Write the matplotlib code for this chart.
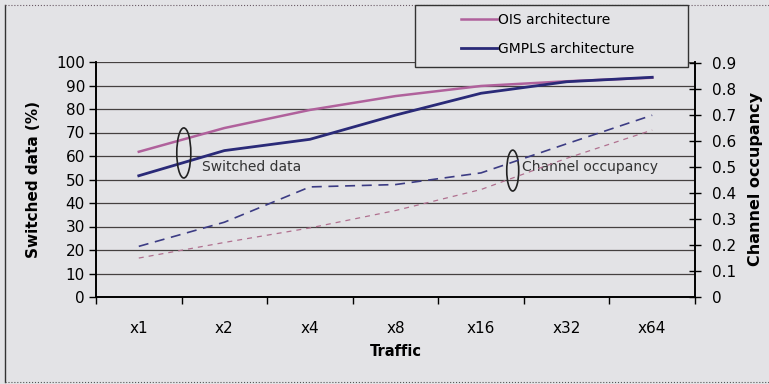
import matplotlib.pyplot as plt
from matplotlib.patches import Ellipse, Rectangle
from matplotlib.lines import Line2D

plt.rcParams['font.family'] = ['DejaVu Sans']

traffic = ['x1', 'x2', 'x4', 'x8', 'x16', 'x32', 'x64']

# switched data (%), left axis
ois_switched = [61.8, 71.9, 79.6, 85.5, 89.8, 91.8, 93.3]
gmpls_switched = [51.6, 62.3, 67.1, 77.4, 86.7, 91.6, 93.5]

# channel occupancy, right axis
ois_occupancy = [0.15, 0.21, 0.266, 0.333, 0.414, 0.534, 0.643]
gmpls_occupancy = [0.195, 0.288, 0.424, 0.433, 0.478, 0.59, 0.70]

bg = '#e3e3e6'
pink = '#b0619c'
navy = '#2a2a78'

fig = plt.figure(figsize=(7.69, 3.84), dpi=100, facecolor=bg)
ax = fig.add_axes([96 / 769, 1 - 297 / 384, 599 / 769, 235 / 384])
ax.set_facecolor(bg)
ax2 = ax.twinx()

x = range(len(traffic))

# gridlines on the left scale
ax.set_ylim(0, 100)
ax.set_yticks(range(0, 101, 10))
ax.grid(axis='y', color='#454040', linewidth=0.9)
ax.set_axisbelow(True)

ax.plot(x, ois_switched, color=pink, linewidth=1.8, label='OIS architecture', zorder=3)
ax.plot(x, gmpls_switched, color=navy, linewidth=2.0, label='GMPLS architecture', zorder=4)

ax2.plot(x, gmpls_occupancy, color='#3c3c84', linewidth=1.2, dashes=(6, 4))
ax2.plot(x, ois_occupancy, color='#b0708f', linewidth=0.9, dashes=(4, 4))
ax2.set_ylim(0, 0.905)
ax2.set_yticks([i / 10 for i in range(10)])
ax2.set_yticklabels(['0'] + ['0.%d' % i for i in range(1, 10)])

ax.set_xlim(-0.5, len(traffic) - 0.5)
ax.set_xticks([i - 0.5 for i in range(len(traffic) + 1)])
ax.set_xticklabels([])
ax.set_xticks(list(x), minor=True)
ax.set_xticklabels(traffic, minor=True)
ax.tick_params(axis='x', which='major', direction='out', length=5, width=1, color='black')
ax.tick_params(axis='x', which='minor', length=0, pad=17, labelsize=11)
ax.tick_params(axis='y', direction='out', length=5, width=1, labelsize=11, pad=3)
ax2.tick_params(axis='y', direction='inout', length=8, width=1, labelsize=11, pad=8)

for a in (ax, ax2):
    a.spines['top'].set_visible(False)
    for s in ('left', 'right', 'bottom'):
        a.spines[s].set_linewidth(1.2)
        a.spines[s].set_color('black')

ax.set_xlabel('Traffic', fontweight='bold', fontsize=10.5, labelpad=6)
ax.set_ylabel('Switched data (%)', fontweight='bold', fontsize=11, labelpad=11)
ax2.set_ylabel('Channel occupancy', fontweight='bold', fontsize=11.5, labelpad=9)

# annotation ellipses
ax.add_patch(Ellipse((0.526, 61.3), 0.164, 21.3, fill=False, edgecolor='#222222', linewidth=1.2, zorder=5))
ax.text(0.74, 55.3, 'Switched data', fontsize=10, va='center', color='#333333', zorder=5)
ax.add_patch(Ellipse((4.37, 53.8), 0.14, 17.4, fill=False, edgecolor='#222222', linewidth=1.2, zorder=5))
ax.text(4.48, 55.3, 'Channel occupancy', fontsize=10, va='center', color='#333333', zorder=5)

# legend box
fig.patches.append(Rectangle((415 / 769, 1 - 67 / 384), 273 / 769, 62 / 384,
                             transform=fig.transFigure, facecolor=bg,
                             edgecolor='#333333', linewidth=1.0, zorder=5))
handles = [Line2D([], [], color=pink, linewidth=1.8),
           Line2D([], [], color=navy, linewidth=2.0)]
leg = fig.legend(handles, ['OIS architecture', 'GMPLS architecture'],
                 loc='upper left', bbox_to_anchor=(461 / 769, 1 - 13 / 384),
                 frameon=False, fontsize=10, handlelength=2.6, handletextpad=0.1,
                 labelspacing=1.1, borderpad=0, borderaxespad=0)
leg.set_zorder(6)

# outer frame
fig.lines.append(Line2D([5 / 769, 5 / 769], [1 - 5 / 384, 1 - 382 / 384],
                        transform=fig.transFigure, color='#333333', linewidth=1.0))
fig.lines.append(Line2D([5 / 769, 1], [1 - 5 / 384, 1 - 5 / 384],
                        transform=fig.transFigure, color='#6a5a66', linewidth=0.8, linestyle=':'))
fig.lines.append(Line2D([5 / 769, 1], [1 - 382 / 384, 1 - 382 / 384],
                        transform=fig.transFigure, color='#555555', linewidth=0.8, linestyle=':'))

fig.savefig('out.png', dpi=100, facecolor=bg)
